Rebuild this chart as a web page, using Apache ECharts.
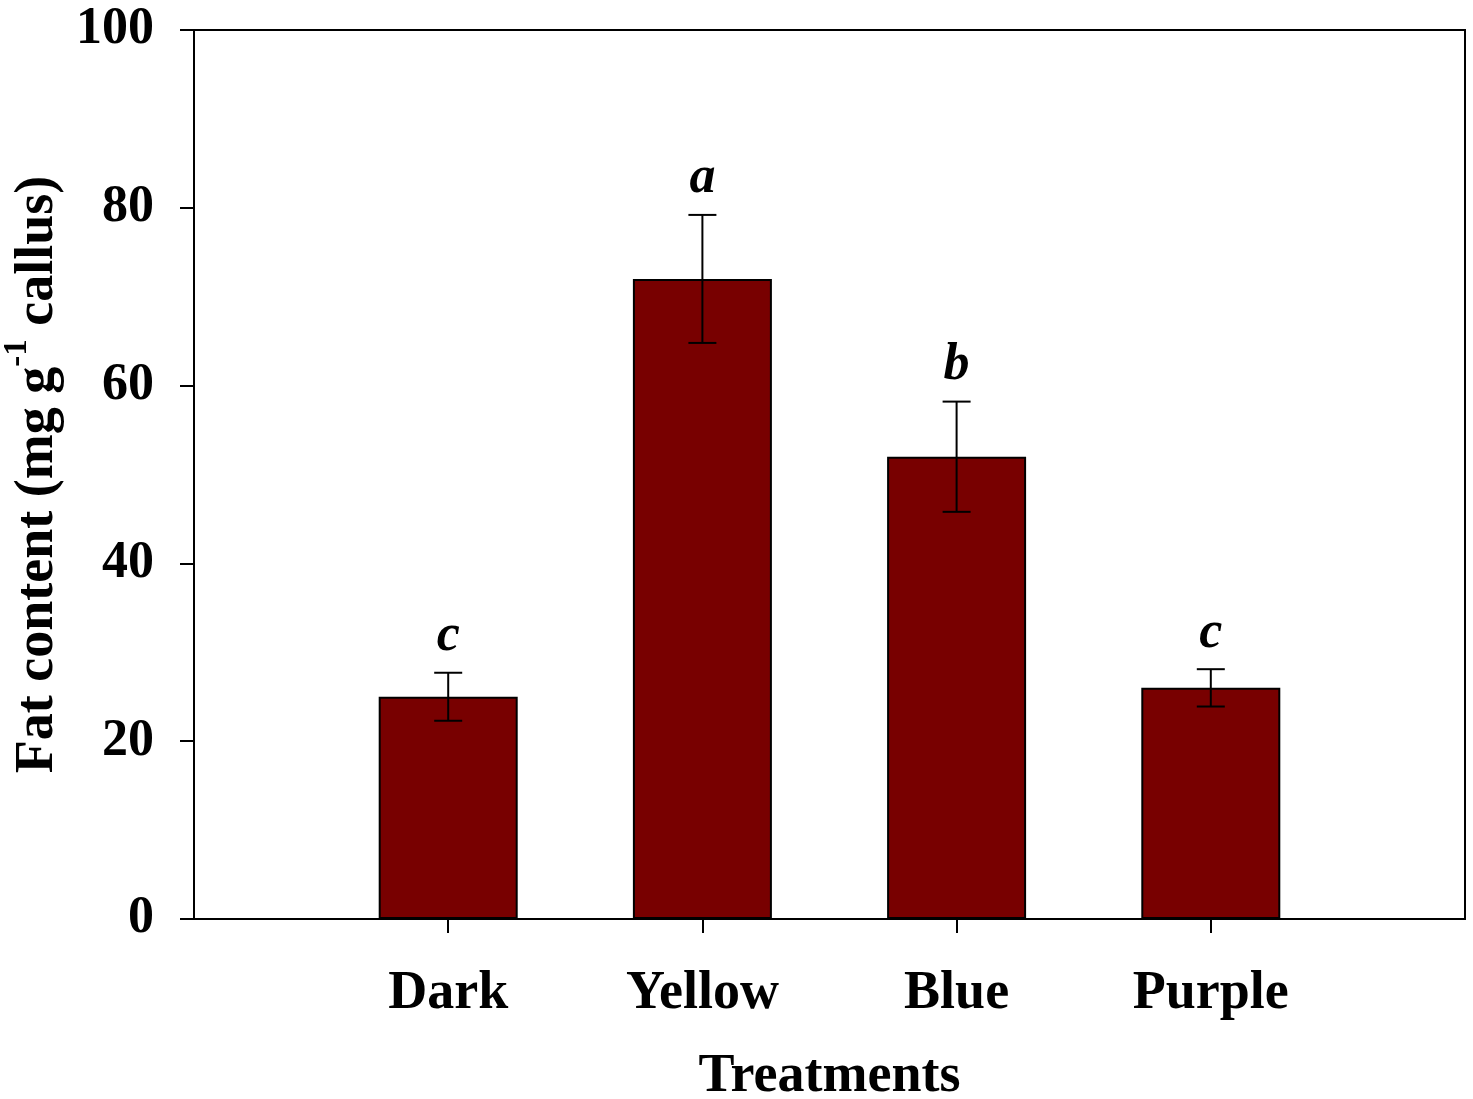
<!DOCTYPE html>
<html>
<head>
<meta charset="utf-8">
<script src="https://cdn.jsdelivr.net/npm/echarts@6/dist/echarts.min.js"></script>
<style>html,body{margin:0;padding:0;background:#fff;}#c{width:1473px;height:1099px;}</style>
</head>
<body>
<div id="c"></div>
<script>
var categories = ['Dark', 'Yellow', 'Blue', 'Purple'];
var means = [25, 72, 52, 26];
var errors = [2.7, 7.2, 6.2, 2.1];
var letters = ['c', 'a', 'b', 'c'];
var yTicks = [0, 20, 40, 60, 80, 100];

var FONT = "'Liberation Serif', 'Times New Roman', serif";
// pad an empty slot on each side of the categories
var axisCats = [''].concat(categories, ['']);
var barData = [null].concat(means, [null]);
var errData = categories.map(function (c, i) { return [i + 1, means[i], errors[i], letters[i]]; });

var chart = echarts.init(document.getElementById('c'), null, {renderer: 'canvas'});
chart.setOption({
  backgroundColor: '#fff',
  animation: false,
  grid: {left: 194, right: 8, top: 30, bottom: 180, containLabel: false, outerBoundsMode: 'none',
    show: true, borderColor: '#000', borderWidth: 2, backgroundColor: 'transparent'},
  xAxis: {
    type: 'category',
    data: axisCats,
    boundaryGap: false,
    name: 'Treatments',
    nameLocation: 'middle',
    nameGap: 131,
    nameTextStyle: {fontFamily: FONT, fontWeight: 'bold', fontSize: 54, color: '#000'},
    axisLine: {show: true, lineStyle: {color: '#000', width: 2}},
    axisTick: {show: true, length: 14, lineStyle: {color: '#000', width: 2},
      interval: function (idx) { return idx > 0 && idx < axisCats.length - 1; }},
    axisLabel: {fontFamily: FONT, fontWeight: 'bold', fontSize: 54, color: '#000', margin: 48, interval: 0},
    splitLine: {show: false}
  },
  yAxis: {
    type: 'value',
    min: yTicks[0], max: yTicks[yTicks.length - 1], interval: 20,
    name: '{t|Fat content (mg g}{s|-1}{t| callus)}',
    nameLocation: 'middle',
    nameGap: 120,
    nameRotate: 90,
    nameTextStyle: {
      color: '#000',
      rich: {
        t: {fontFamily: FONT, fontWeight: 'bold', fontSize: 54, color: '#000', lineHeight: 64, verticalAlign: 'bottom'},
        s: {fontFamily: FONT, fontWeight: 'bold', fontSize: 33, color: '#000', lineHeight: 64, verticalAlign: 'top'}
      }
    },
    axisLine: {show: true, lineStyle: {color: '#000', width: 2}},
    axisTick: {show: true, length: 14, lineStyle: {color: '#000', width: 2}},
    axisLabel: {fontFamily: FONT, fontWeight: 'bold', fontSize: 52, color: '#000', margin: 40, padding: [8, 0, 0, 0]},
    splitLine: {show: false}
  },
  series: [
    {
      type: 'bar',
      data: barData,
      barWidth: 139,
      itemStyle: {color: '#780000', borderColor: '#000', borderWidth: 2}
    },
    {
      type: 'custom',
      data: errData,
      z: 10,
      renderItem: function (params, api) {
        var x = api.value(0), m = api.value(1), e = api.value(2);
        var letter = errData[params.dataIndex][3];
        var top = api.coord([x, m + e]);
        var bot = api.coord([x, m - e]);
        var hw = 14;
        var ls = {stroke: '#000', lineWidth: 2};
        return {
          type: 'group',
          children: [
            {type: 'line', shape: {x1: top[0], y1: top[1], x2: bot[0], y2: bot[1]}, style: ls},
            {type: 'line', shape: {x1: top[0] - hw, y1: top[1], x2: top[0] + hw, y2: top[1]}, style: ls},
            {type: 'line', shape: {x1: bot[0] - hw, y1: bot[1], x2: bot[0] + hw, y2: bot[1]}, style: ls},
            {type: 'text', x: top[0], y: top[1] - 10,
              style: {text: letter, fill: '#000', font: 'italic bold 52px ' + FONT, textAlign: 'center', textVerticalAlign: 'bottom'}}
          ]
        };
      }
    }
  ]
});
</script>
</body>
</html>
